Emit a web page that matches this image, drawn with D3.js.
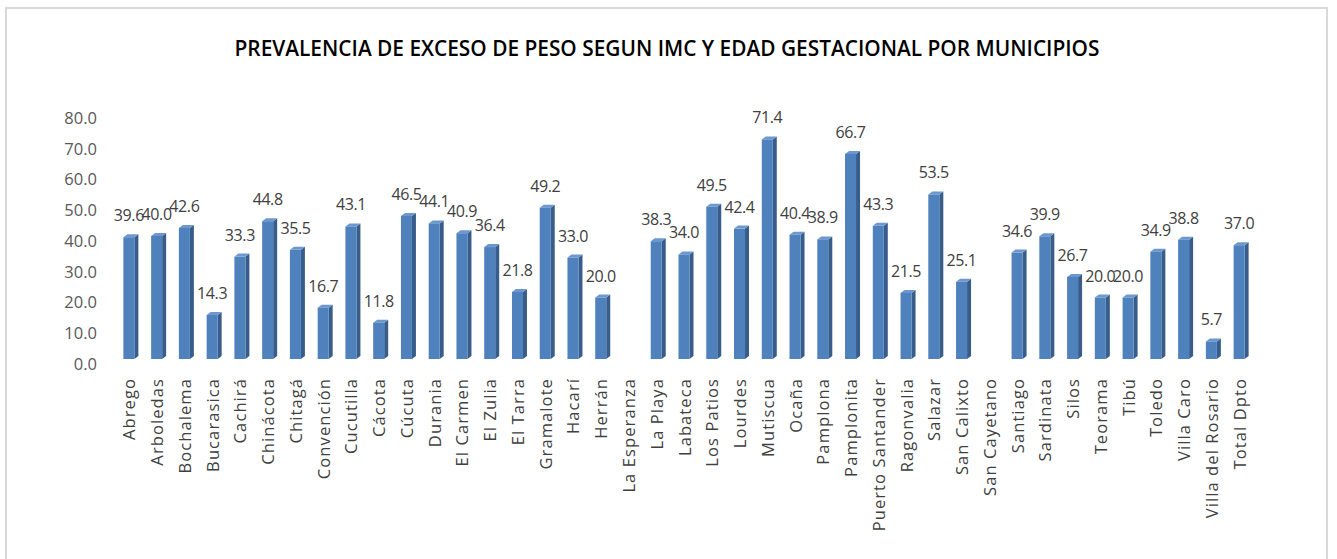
<!DOCTYPE html>
<html>
<head>
<meta charset="utf-8">
<title>Prevalencia de exceso de peso</title>
<style>
body { margin: 0; background: #fff; }
.axis--y .domain, .axis--y line { stroke: none; }
.axis--x .domain, .axis--x line { stroke: none; }
</style>
</head>
<body>
<script src="https://cdn.jsdelivr.net/npm/d3@7"></script>
<script>

// data
var municipios = ["Abrego", "Arboledas", "Bochalema", "Bucarasica", "Cachirá", "Chinácota", "Chitagá",
    "Convención", "Cucutilla", "Cácota", "Cúcuta", "Durania", "El Carmen", "El Zulia", "El Tarra",
    "Gramalote", "Hacarí", "Herrán", "La Esperanza", "La Playa", "Labateca", "Los Patios", "Lourdes",
    "Mutiscua", "Ocaña", "Pamplona", "Pamplonita", "Puerto Santander", "Ragonvalia", "Salazar",
    "San Calixto", "San Cayetano", "Santiago", "Sardinata", "Silos", "Teorama", "Tibú", "Toledo",
    "Villa Caro", "Villa del Rosario", "Total Dpto"];

var prevalencia = [39.6, 40.0, 42.6, 14.3, 33.3, 44.8, 35.5, 16.7, 43.1, 11.8, 46.5, 44.1, 40.9, 36.4,
    21.8, 49.2, 33.0, 20.0, null, 38.3, 34.0, 49.5, 42.4, 71.4, 40.4, 38.9, 66.7, 43.3, 21.5, 53.5,
    25.1, null, 34.6, 39.9, 26.7, 20.0, 20.0, 34.9, 38.8, 5.7, 37.0];

var yTicks = [0, 10, 20, 30, 40, 50, 60, 70, 80];

var titulo = "PREVALENCIA DE EXCESO DE PESO SEGUN IMC Y EDAD GESTACIONAL POR MUNICIPIOS";

var W = 1337, H = 559;
var font = "'Open Sans', 'Noto Sans', sans-serif";

var svg = d3.select("body").append("svg")
    .attr("width", W)
    .attr("height", H);

// chart frame
svg.append("rect")
    .attr("x", 6).attr("y", 8)
    .attr("width", 1321).attr("height", 560)
    .attr("fill", "#fff")
    .attr("stroke", "#d9d9d9")
    .attr("stroke-width", 2);

// title
svg.append("text")
    .attr("x", 667).attr("y", 56)
    .attr("text-anchor", "middle")
    .attr("font-family", font)
    .attr("font-weight", 600)
    .attr("font-size", 22)
    .attr("fill", "#000")
    .attr("textLength", 865)
    .attr("lengthAdjust", "spacingAndGlyphs")
    .text(titulo);

// scales
var x = d3.scaleBand()
    .domain(municipios)
    .range([115, 1253]);

var y = d3.scaleLinear()
    .domain([0, 80])
    .range([359, 113]);

// y axis (labels only)
var yAxis = svg.append("g")
    .attr("class", "axis axis--y")
    .attr("transform", "translate(97,5)")
    .call(d3.axisLeft(y).tickValues(yTicks).tickSize(0).tickPadding(0)
        .tickFormat(function(d) { return d3.format(".1f")(d); }));
yAxis.selectAll("text")
    .attr("font-family", font)
    .attr("font-size", 16.5)
    .attr("fill", "#595959");

// x axis (rotated labels)
var xAxis = svg.append("g")
    .attr("class", "axis axis--x")
    .attr("transform", "translate(0,378)")
    .call(d3.axisBottom(x).tickSize(0).tickPadding(0));
xAxis.selectAll("text")
    .attr("font-family", font)
    .attr("font-size", 16.5)
    .attr("letter-spacing", 1.1)
    .attr("fill", "#404040")
    .attr("text-anchor", "end")
    .attr("dy", null)
    .attr("transform", "rotate(-90)")
    .attr("x", 0)
    .attr("y", 0)
    .attr("dominant-baseline", "central");

// 3d bars
var barW = 11, depth = 4, lift = 3;
var data = municipios.map(function(m, i) { return {name: m, value: prevalencia[i]}; });

var bars = svg.selectAll(".bar")
    .data(data.filter(function(d) { return d.value !== null; }))
    .enter().append("g")
    .attr("class", "bar")
    .attr("transform", function(d) {
        return "translate(" + (x(d.name) + x.bandwidth() / 2 - barW / 2) + ",0)";
    });

// side face
bars.append("path")
    .attr("fill", "#385d8a")
    .attr("d", function(d) {
        var t = y(d.value), b = y(0);
        return "M" + barW + "," + t + "L" + (barW + depth) + "," + (t - lift) +
            "L" + (barW + depth) + "," + (b - lift) + "L" + barW + "," + b + "Z";
    });

// top face
bars.append("path")
    .attr("fill", "#6c98cf")
    .attr("d", function(d) {
        var t = y(d.value);
        return "M0," + t + "L" + depth + "," + (t - lift) + "L" + (barW + depth) + "," + (t - lift) +
            "L" + barW + "," + t + "Z";
    });

// front face
bars.append("rect")
    .attr("x", 0)
    .attr("y", function(d) { return y(d.value); })
    .attr("width", barW)
    .attr("height", function(d) { return y(0) - y(d.value); })
    .attr("fill", "#4f81bd");

// value labels
bars.append("text")
    .attr("x", barW / 2)
    .attr("y", function(d) { return y(d.value) - 16; })
    .attr("text-anchor", "middle")
    .attr("font-family", font)
    .attr("font-size", 16)
    .attr("letter-spacing", -0.4)
    .attr("fill", "#404040")
    .text(function(d) { return d3.format(".1f")(d.value); });

</script>
</body>
</html>
